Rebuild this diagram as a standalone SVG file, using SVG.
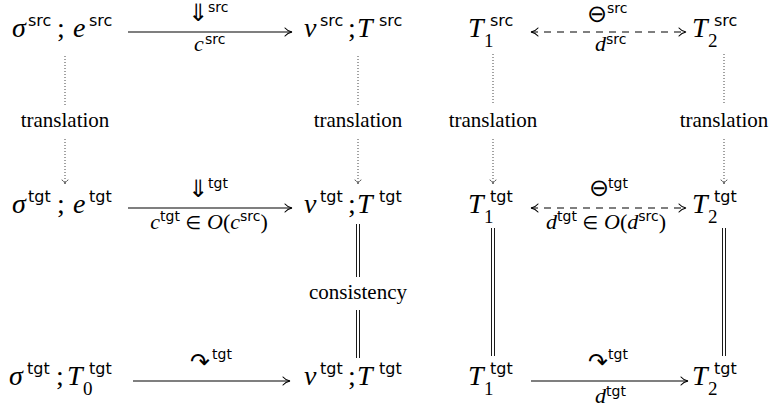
<svg xmlns="http://www.w3.org/2000/svg" width="774" height="410" viewBox="0 0 774 410">
<defs>
<style>
text{fill:#000}
.m{font-family:"Liberation Serif",serif;font-style:italic;font-size:28px}
.r{font-style:normal}
.s{font-family:"DejaVu Sans",sans-serif;font-style:normal;font-size:16px}
.sub{font-family:"Liberation Serif",serif;font-style:normal;font-size:19px}
.li{font-family:"Liberation Serif",serif;font-style:italic;font-size:22px}
.lbl{font-family:"Liberation Serif",serif;font-style:italic;font-size:22px;text-anchor:middle}
.ls{font-family:"DejaVu Sans",sans-serif;font-style:normal;font-size:14px}
.sym{font-family:"DejaVu Sans",sans-serif;font-style:normal;font-size:24px;text-anchor:middle}
.crv{font-family:"DejaVu Sans",sans-serif;font-style:normal;font-size:24px;text-anchor:middle}
.arr{font-family:"DejaVu Sans",sans-serif;font-style:normal;font-size:24px;text-anchor:middle}
.up{font-style:normal}
.txt{font-family:"Liberation Serif",serif;font-size:21px;text-anchor:middle}
.solid{stroke:#000;stroke-width:1.1;fill:none}
.dash{stroke:#000;stroke-width:1.1;fill:none;stroke-dasharray:7 6}
.dot{stroke:#444;stroke-width:1;fill:none;stroke-dasharray:1 2}
.dbl{stroke:#000;stroke-width:0.9;fill:none}
</style>
<marker id="to" viewBox="-8 -5 9 10" refX="0" refY="0" markerWidth="9" markerHeight="10" markerUnits="userSpaceOnUse" orient="auto-start-reverse">
<path d="M-7,-4 C-5,-1.5 -2,-0.4 0,0 C-2,0.4 -5,1.5 -7,4" fill="none" stroke="#000" stroke-width="1.1" stroke-linecap="round"/>
</marker>
<marker id="tod" viewBox="-6 -4 7 8" refX="0" refY="0" markerWidth="7" markerHeight="8" markerUnits="userSpaceOnUse" orient="auto">
<path d="M-4,-3 C-3,-1.2 -1.5,-0.3 0,0 C-1.5,0.3 -3,1.2 -4,3" fill="none" stroke="#444" stroke-width="0.9" stroke-linecap="round"/>
</marker>
</defs>

<g id="connectors">
<line class="solid" x1="128" y1="32" x2="292" y2="32" marker-end="url(#to)"/>
<line class="dash" x1="531" y1="32" x2="686" y2="32" marker-start="url(#to)" marker-end="url(#to)"/>
<line class="solid" x1="128" y1="208" x2="292" y2="208" marker-end="url(#to)"/>
<line class="dash" x1="531" y1="208" x2="686" y2="208" marker-start="url(#to)" marker-end="url(#to)"/>
<line class="solid" x1="133" y1="381" x2="290" y2="381" marker-end="url(#to)"/>
<line class="solid" x1="531" y1="381" x2="688" y2="381" marker-end="url(#to)"/>

<line class="dot" x1="65" y1="56" x2="65" y2="105"/>
<line class="dot" x1="65" y1="139" x2="65" y2="184" marker-end="url(#tod)"/>
<line class="dot" x1="358" y1="56" x2="358" y2="105"/>
<line class="dot" x1="358" y1="139" x2="358" y2="184" marker-end="url(#tod)"/>
<line class="dot" x1="493" y1="54" x2="493" y2="105"/>
<line class="dot" x1="493" y1="139" x2="493" y2="184" marker-end="url(#tod)"/>
<line class="dot" x1="724" y1="54" x2="724" y2="105"/>
<line class="dot" x1="724" y1="139" x2="724" y2="184" marker-end="url(#tod)"/>

<path class="dbl" d="M356.5,224V277M359.5,224V277M356.5,310V358M359.5,310V358"/>
<path class="dbl" d="M491.5,228V356M494.5,228V356"/>
<path class="dbl" d="M722.5,228V356M725.5,228V356"/>

<text class="arr" x="198" y="21">⇓</text>
<text class="ls" x="208" y="12">src</text>
<text class="li" x="194" y="51">c</text><text class="ls" x="205" y="44">src</text>

<text class="sym" x="597" y="22">⊖</text>
<text class="ls" x="607" y="13">src</text>
<text class="li" x="595" y="51">d</text><text class="ls" x="606" y="44">src</text>

<text class="txt" x="65" y="127">translation</text>
<text class="txt" x="358" y="127">translation</text>
<text class="txt" x="493" y="127">translation</text>
<text class="txt" x="724" y="127">translation</text>

<text class="arr" x="198" y="197">⇓</text>
<text class="ls" x="208" y="188">tgt</text>
<text class="lbl" x="209" y="229">c<tspan class="ls" dy="-8">tgt</tspan><tspan class="up" dy="8" font-family="DejaVu Sans" font-size="18"> ∈ </tspan>O<tspan class="up">(</tspan>c<tspan class="ls" dy="-8">src</tspan><tspan class="up" dy="8">)</tspan></text>

<text class="sym" x="599" y="196">⊖</text>
<text class="ls" x="608" y="188">tgt</text>
<text class="lbl" x="606" y="229">d<tspan class="ls" dy="-8">tgt</tspan><tspan class="up" dy="8" font-family="DejaVu Sans" font-size="18"> ∈ </tspan>O<tspan class="up">(</tspan>d<tspan class="ls" dy="-8">src</tspan><tspan class="up" dy="8">)</tspan></text>

<text class="txt" x="358" y="299">consistency</text>

<text class="crv" x="200" y="370">↷</text>
<text class="ls" x="212" y="359">tgt</text>
<text class="crv" x="598" y="370">↷</text>
<text class="ls" x="608" y="359">tgt</text>
<text class="li" x="595" y="403">d</text><text class="ls" x="606" y="396">tgt</text>
</g>

<g id="n-src-state">
<text class="m" x="12" y="37">σ</text><text class="s" x="28" y="26">src</text><text class="m r" x="57" y="37">;</text><text class="m" x="73" y="37">e</text><text class="s" x="89" y="26">src</text>
</g>
<g id="n-src-result">
<text class="m" x="304" y="37">v</text><text class="s" x="320" y="26">src</text><text class="m r" x="348" y="37">;</text><text class="m" x="357" y="37">T</text><text class="s" x="379" y="26">src</text>
</g>
<g id="n-src-t1">
<text class="m" x="468" y="37">T</text><text class="sub" x="484" y="47">1</text><text class="s" x="490" y="26">src</text>
</g>
<g id="n-src-t2">
<text class="m" x="692" y="37">T</text><text class="sub" x="708" y="47">2</text><text class="s" x="714" y="26">src</text>
</g>

<g id="n-tgt-state">
<text class="m" x="12" y="213">σ</text><text class="s" x="28" y="202">tgt</text><text class="m r" x="57" y="213">;</text><text class="m" x="73" y="213">e</text><text class="s" x="89" y="202">tgt</text>
</g>
<g id="n-tgt-result">
<text class="m" x="304" y="213">v</text><text class="s" x="320" y="202">tgt</text><text class="m r" x="348" y="213">;</text><text class="m" x="357" y="213">T</text><text class="s" x="379" y="202">tgt</text>
</g>
<g id="n-tgt-t1">
<text class="m" x="468" y="213">T</text><text class="sub" x="484" y="223">1</text><text class="s" x="490" y="202">tgt</text>
</g>
<g id="n-tgt-t2">
<text class="m" x="692" y="213">T</text><text class="sub" x="708" y="223">2</text><text class="s" x="714" y="202">tgt</text>
</g>

<g id="n-tgt-init">
<text class="m" x="9" y="385">σ</text><text class="s" x="27" y="374">tgt</text><text class="m r" x="56" y="385">;</text><text class="m" x="67" y="385">T</text><text class="sub" x="83" y="395">0</text><text class="s" x="89" y="374">tgt</text>
</g>
<g id="n-tgt-final">
<text class="m" x="304" y="385">v</text><text class="s" x="320" y="374">tgt</text><text class="m r" x="348" y="385">;</text><text class="m" x="357" y="385">T</text><text class="s" x="379" y="374">tgt</text>
</g>
<g id="n-tgt-t1b">
<text class="m" x="468" y="385">T</text><text class="sub" x="484" y="395">1</text><text class="s" x="490" y="374">tgt</text>
</g>
<g id="n-tgt-t2b">
<text class="m" x="692" y="385">T</text><text class="sub" x="708" y="395">2</text><text class="s" x="714" y="374">tgt</text>
</g>
</svg>
